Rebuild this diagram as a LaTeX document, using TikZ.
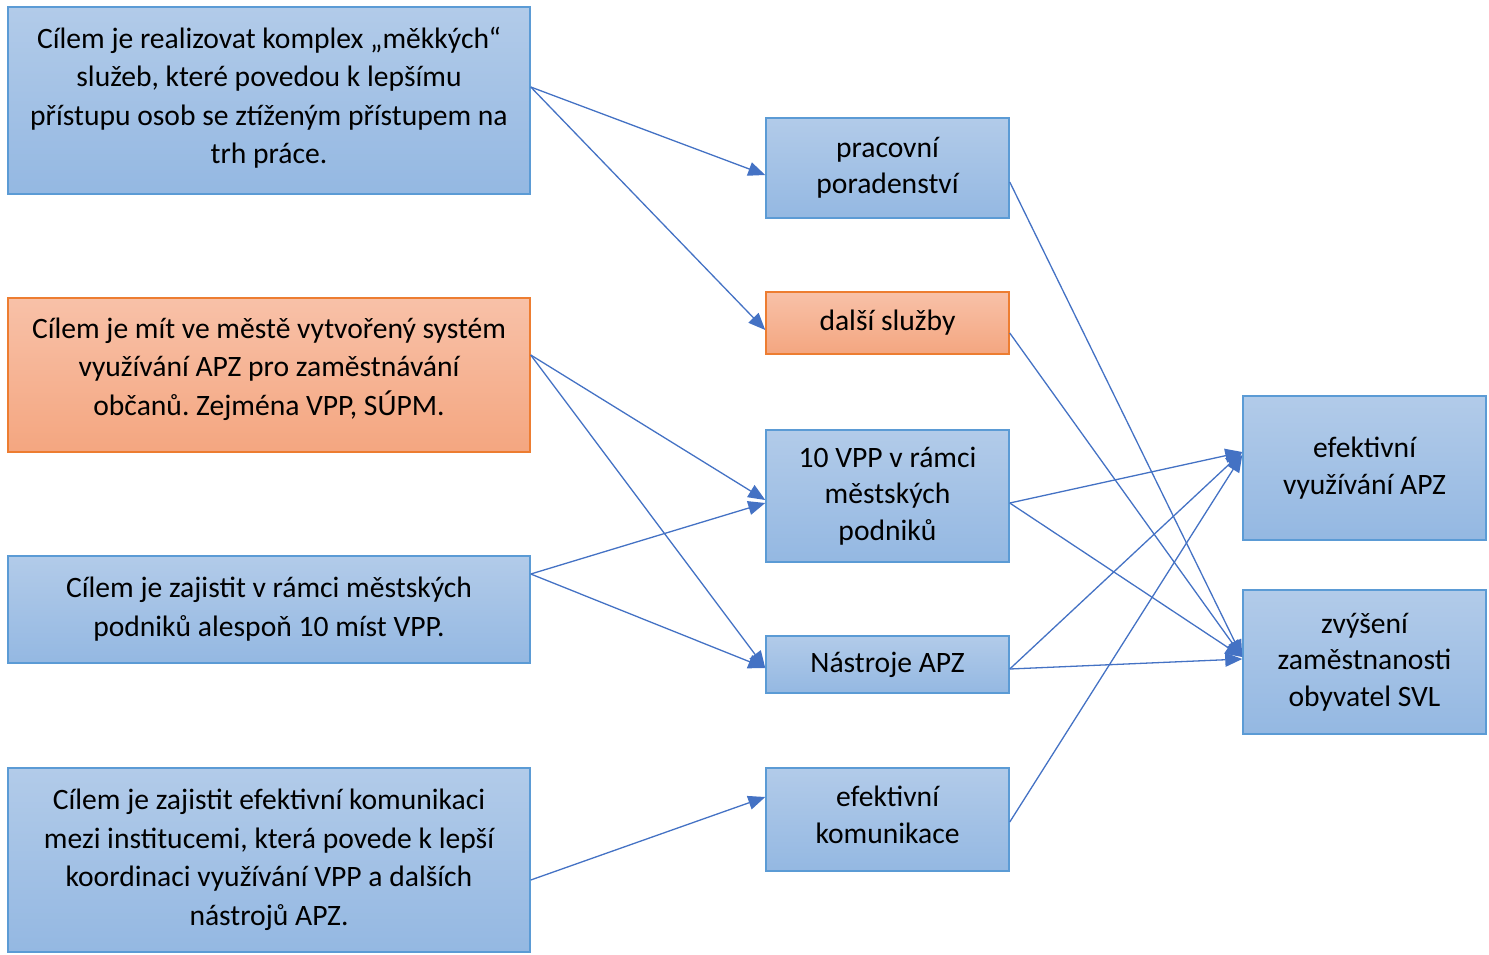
\documentclass[tikz,border=0pt]{standalone}
\usepackage{fontspec}
\setmainfont{Carlito}
\frenchspacing
\usetikzlibrary{arrows.meta}
\definecolor{bluetop}{RGB}{178,203,233}
\definecolor{bluebot}{RGB}{148,184,226}
\definecolor{blueline}{RGB}{91,155,213}
\definecolor{orgtop}{RGB}{248,193,168}
\definecolor{orgbot}{RGB}{244,166,128}
\definecolor{orgline}{RGB}{237,125,49}
\definecolor{arrowc}{RGB}{68,114,196}
\tikzset{
  bbox/.style={draw=blueline, line width=1.5pt, top color=bluetop, bottom color=bluebot,
    rectangle, align=center, inner sep=0pt, font=\fontsize{29.6}{36.5}\selectfont},
  lbox/.style={bbox, font=\fontsize{29.6}{38.5}\selectfont},
  orange/.style={draw=orgline, top color=orgtop, bottom color=orgbot},
  conn/.style={draw=arrowc, line width=1.3pt, -{Triangle[length=17pt,width=14pt]}}
}
\begin{document}
\begin{tikzpicture}[x=1pt,y=-1pt]
\useasboundingbox (0,0) rectangle (1489,954);
% left column
\node[lbox, minimum width=522pt, minimum height=187pt] (A1) at (269,100.5)
  {Cílem je realizovat komplex „měkkých“\\služeb, které povedou k lepšímu\\přístupu osob se ztíženým přístupem na\\trh práce.\\[-28.5pt]};
\node[lbox, orange, minimum width=522pt, minimum height=154pt] (A2) at (269,375)
  {Cílem je mít ve městě vytvořený systém\\využívání APZ pro zaměstnávání\\občanů. Zejména VPP, SÚPM.\\[-21pt]};
\node[lbox, minimum width=522pt, minimum height=107pt] (A3) at (269,609.5)
  {Cílem je zajistit v rámci městských\\podniků alespoň 10 míst VPP.\\[-32.5pt]};
\node[lbox, minimum width=522pt, minimum height=184pt] (A4) at (269,860)
  {Cílem je zajistit efektivní komunikaci\\mezi institucemi, která povede k lepší\\koordinaci využívání VPP a dalších\\nástrojů APZ.\\[-32.5pt]};
% middle column
\node[bbox, minimum width=243pt, minimum height=100pt] (B1) at (887.5,168)
  {pracovní\\poradenství};
\node[bbox, orange, minimum width=243pt, minimum height=62pt] (B2) at (887.5,323)
  {další služby};
\node[bbox, minimum width=243pt, minimum height=132pt] (B3) at (887.5,496)
  {10 VPP v rámci\\městských\\podniků};
\node[bbox, minimum width=243pt, minimum height=57pt] (B4) at (887.5,664.5)
  {Nástroje APZ};
\node[bbox, minimum width=243pt, minimum height=103pt] (B5) at (887.5,819.5)
  {efektivní\\komunikace\\[-26.5pt]};
% right column
\node[bbox, minimum width=243pt, minimum height=144pt] (C1) at (1364.5,468)
  {efektivní\\využívání APZ};
\node[bbox, minimum width=243pt, minimum height=144pt] (C2) at (1364.5,662)
  {zvýšení\\zaměstnanosti\\obyvatel SVL};
% connectors
\draw[conn] ([yshift=13.5pt]A1.east) -- ([yshift=-7pt]B1.west);
\draw[conn] ([yshift=13.5pt]A1.east) -- ([yshift=-7pt]B2.west);
\draw[conn] ([yshift=20pt]A2.east) -- ([yshift=-4pt]B3.west);
\draw[conn] ([yshift=20pt]A2.east) -- ([yshift=-3.5pt]B4.west);
\draw[conn] ([yshift=35.5pt]A3.east) -- ([yshift=-7pt]B3.west);
\draw[conn] ([yshift=35.5pt]A3.east) -- ([yshift=-3.5pt]B4.west);
\draw[conn] ([yshift=-20pt]A4.east) -- ([yshift=22.5pt]B5.west);
\draw[conn] ([yshift=-14pt]B1.east) -- ([yshift=5pt]C2.west);
\draw[conn] ([yshift=-10pt]B2.east) -- ([yshift=5pt]C2.west);
\draw[conn] ([yshift=-7pt]B3.east) -- ([yshift=16pt]C1.west);
\draw[conn] ([yshift=-7pt]B3.east) -- ([yshift=5pt]C2.west);
\draw[conn] ([yshift=-4.5pt]B4.east) -- ([yshift=16pt]C1.west);
\draw[conn] ([yshift=-4.5pt]B4.east) -- ([yshift=3pt]C2.west);
\draw[conn] ([yshift=-2.5pt]B5.east) -- ([yshift=13pt]C1.west);
\end{tikzpicture}
\end{document}
